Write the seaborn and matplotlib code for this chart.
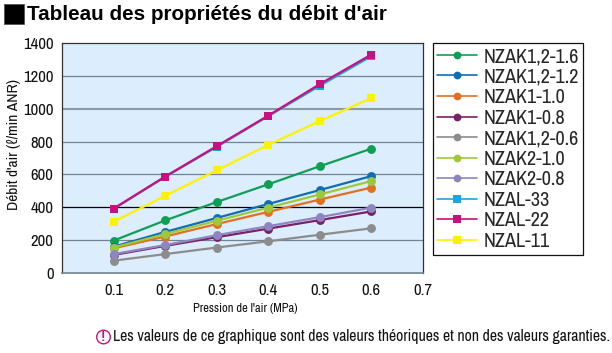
import matplotlib
matplotlib.use("Agg")
import matplotlib.pyplot as plt
import matplotlib.font_manager as fm
from matplotlib.patches import Rectangle, Circle
import pandas as pd
import seaborn as sns

pressure = [0.1, 0.2, 0.3, 0.4, 0.5, 0.6]
nzak12_16 = [197, 320, 432, 540, 650, 757]
nzak12_12 = [160, 250, 335, 420, 505, 590]
nzak1_10 = [150, 222, 298, 372, 447, 520]
nzak1_08 = [110, 165, 218, 270, 322, 375]
nzak12_06 = [75, 115, 155, 193, 233, 272]
nzak2_10 = [155, 237, 318, 398, 478, 560]
nzak2_08 = [115, 170, 230, 285, 340, 398]
nzal_33 = [390, 585, 768, 955, 1140, 1320]
nzal_22 = [392, 587, 772, 958, 1150, 1330]
nzal_11 = [312, 470, 625, 780, 925, 1065]

names = ["NZAK1,2-1.6", "NZAK1,2-1.2", "NZAK1-1.0", "NZAK1-0.8", "NZAK1,2-0.6",
         "NZAK2-1.0", "NZAK2-0.8", "NZAL-33", "NZAL-22", "NZAL-11"]
series = [nzak12_16, nzak12_12, nzak1_10, nzak1_08, nzak12_06,
          nzak2_10, nzak2_08, nzal_33, nzal_22, nzal_11]
colors = ["#0E9F54", "#0F6DB5", "#E2701E", "#7B1F66", "#8C8C8C",
          "#9CC93C", "#8E86C0", "#1CA4E6", "#C8107F", "#FFF200"]
markers = ["o"] * 7 + ["s"] * 3
yticks = [0, 200, 400, 600, 800, 1000, 1200, 1400]
xticks = [0.1, 0.2, 0.3, 0.4, 0.5, 0.6, 0.7]
grid_colors = ["#6F8494", "#000000", "#6F8494", "#6F8494", "#8A9AA6", "#6F8494"]
grid_widths = [0.9, 0.9, 0.9, 0.9, 1.5, 0.9]

sns.set_theme(style="white")
avail = {f.name for f in fm.fontManager.ttflist}
narrow = next((n for n in ["Archivo Narrow", "Roboto Condensed", "PT Sans Narrow", "Liberation Sans"] if n in avail), "DejaVu Sans")
plt.rcParams["font.family"] = [narrow, "DejaVu Sans"]

W, H = 612, 353
fig = plt.figure(figsize=(W / 100, H / 100), dpi=100, facecolor="white")
ax = fig.add_axes([62 / W, 1 - 273 / H, 361 / W, 230 / H], facecolor="#DCEDFD")

df = pd.DataFrame([
    {"p": p, "q": v, "name": n}
    for n, vals in zip(names, series) for p, v in zip(pressure, vals)
])
for level, c, lw in zip(yticks[1:-1], grid_colors, grid_widths):
    ax.axhline(level, color=c, lw=lw, zorder=1)
sns.lineplot(data=df, x="p", y="q", hue="name", style="name", hue_order=names, style_order=names,
             palette=dict(zip(names, colors)), markers=dict(zip(names, markers)),
             dashes=False, lw=1.6, markersize=6.4, markeredgewidth=0, ax=ax, zorder=3,
             sort=False, errorbar=None)

ax.set_xlim(0, 0.7)
ax.set_ylim(0, 1400)
ax.set_xticks(xticks)
ax.set_xticklabels([f"{x:.1f}" for x in xticks], fontsize=12, color="#111111")
ax.set_yticks(yticks)
ax.set_yticklabels([str(y) for y in yticks], fontsize=12, color="#111111")
ax.tick_params(axis="both", length=0, pad=6)
ax.tick_params(axis="x", pad=7)
ax.set_xlabel("")
ax.set_ylabel("")
for s in ax.spines.values():
    s.set_color("#333333")
    s.set_linewidth(0.9)
ax.spines["bottom"].set_color("#6F8494")
ax.spines["bottom"].set_linewidth(1.2)

handles, labels = ax.get_legend_handles_labels()
for h in handles:
    h.set_linewidth(1.2)
    h.set_markersize(5.6)
leg = fig.legend(handles, labels, loc="upper left", bbox_to_anchor=(433 / W, 1 - 43 / H),
                 bbox_transform=fig.transFigure, fontsize=14.5, frameon=True, fancybox=False,
                 edgecolor="#111111", framealpha=1, labelspacing=0.075, handlelength=2.0,
                 handletextpad=0.3, borderpad=0.2, borderaxespad=0)
leg.get_frame().set_linewidth(0.9)
if ax.get_legend():
    ax.get_legend().remove()

fig.text(27 / W, 1 - 14 / H, "Tableau des propriétés du débit d'air", fontsize=14.9,
         fontweight="bold", family=["Liberation Sans", "DejaVu Sans"], va="center", ha="left", color="#000000")
fig.add_artist(Rectangle((4 / W, 1 - 24 / H), 20 / W, 20 / H, transform=fig.transFigure,
                         facecolor="#000000", edgecolor="#555555", lw=0.6))
fig.text(14 / W, 1 - 145 / H, "Débit d'air (ℓ/min ANR)", rotation=90, fontsize=11.2,
         va="center", ha="center", color="#111111", family=[narrow, "DejaVu Sans"])
fig.text(245 / W, 1 - 308 / H, "Pression de l'air (MPa)", fontsize=9, va="center", ha="center", color="#111111")
fig.text(113 / W, 1 - 337 / H, "Les valeurs de ce graphique sont des valeurs théoriques et non des valeurs garanties.",
         fontsize=11.35, va="center", ha="left", color="#111111")
fig.add_artist(Circle((103.5, H - 337), 6.8, transform=None, facecolor="white",
                      edgecolor="#C8107F", lw=1.0))
fig.text(103.5 / W, 1 - 337 / H, "!", fontsize=10, fontweight="bold", color="#C8107F",
         va="center", ha="center", family=["Liberation Sans", "DejaVu Sans"])

fig.savefig("out.png", dpi=100, facecolor="white")
